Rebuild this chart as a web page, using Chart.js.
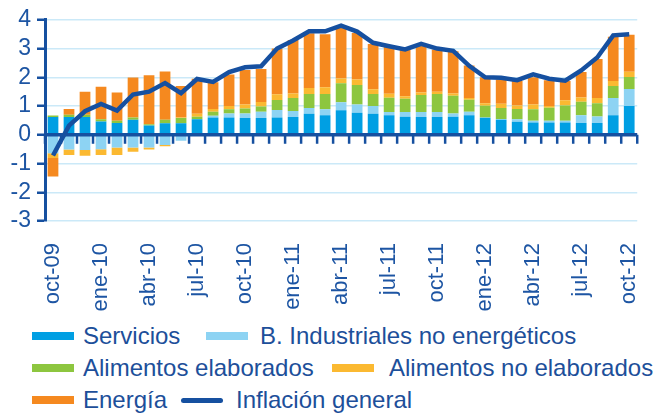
<!DOCTYPE html>
<html>
<head>
<meta charset="utf-8">
<script src="https://cdn.jsdelivr.net/npm/chart.js@4.4.1/dist/chart.umd.min.js"></script>
<style>
  body { margin: 0; background: #fff; font-family: "Liberation Sans", Arial, sans-serif; }
  #wrap { position: relative; width: 670px; height: 417px; }
  #grafico { position: absolute; left: 0; top: 0; }
  .ley { position: absolute; height: 28px; line-height: 28px; font-size: 24px; color: #1d4f9a; white-space: nowrap; }
  .caja { position: absolute; width: 42px; height: 8px; top: 10px; left: 0; }
  .linea { position: absolute; width: 42px; height: 5px; top: 12px; left: 0; border-radius: 3px; background: #1650a0; }
  .txt { position: absolute; top: 0; }
</style>
</head>
<body>
<div id="wrap">
  <canvas id="grafico" width="670" height="320"></canvas>
  <div id="leyenda"></div>
</div>
<script>
// Datos: contribuciones a la inflación (puntos porcentuales)
const meses = ['oct-09','nov-09','dic-09','ene-10','feb-10','mar-10','abr-10','may-10','jun-10','jul-10','ago-10','sep-10',
    'oct-10','nov-10','dic-10','ene-11','feb-11','mar-11','abr-11','may-11','jun-11','jul-11','ago-11','sep-11',
    'oct-11','nov-11','dic-11','ene-12','feb-12','mar-12','abr-12','may-12','jun-12','jul-12','ago-12','sep-12','oct-12'];

const servicios = [0.62,0.62,0.62,0.46,0.41,0.52,0.32,0.40,0.40,0.54,0.60,0.60,0.58,0.58,0.60,0.62,0.73,0.68,0.85,0.77,0.73,0.68,0.63,0.62,0.62,0.63,0.68,0.59,0.52,0.45,0.43,0.43,0.43,0.41,0.41,0.68,1.00];
const bIndustriales = [-0.64,-0.51,-0.53,-0.50,-0.44,-0.44,-0.44,-0.36,-0.21,0.00,0.06,0.14,0.16,0.22,0.26,0.21,0.20,0.21,0.28,0.28,0.27,0.11,0.16,0.17,0.17,0.11,0.12,0.01,0.03,0.09,0.06,0.06,0.06,0.27,0.23,0.60,0.59];
const alimElaborados = [0.05,0.08,0.08,0.08,0.08,0.08,0.05,0.12,0.18,0.09,0.14,0.15,0.17,0.18,0.35,0.45,0.49,0.53,0.66,0.68,0.42,0.50,0.46,0.59,0.63,0.62,0.42,0.41,0.38,0.36,0.40,0.45,0.53,0.47,0.46,0.42,0.42];
const alimNoElaborados = [-0.17,-0.19,-0.20,-0.20,-0.26,-0.15,-0.07,-0.04,0.02,0.10,0.10,0.11,0.14,0.16,0.20,0.16,0.21,0.23,0.17,0.19,0.16,0.14,0.09,0.09,0.08,0.08,0.06,0.09,0.15,0.12,0.16,0.06,0.18,0.15,0.18,0.17,0.18];
const energia = [-0.64,0.20,0.80,1.13,0.98,1.39,1.70,1.68,1.10,1.22,0.93,1.10,1.20,1.15,1.59,1.86,1.90,1.85,1.80,1.62,1.58,1.63,1.63,1.62,1.47,1.47,1.13,0.90,0.84,0.85,0.95,0.90,0.67,0.88,1.36,1.54,1.29];
const inflacion = [-0.72,0.32,0.82,1.07,0.84,1.40,1.50,1.80,1.45,1.94,1.84,2.18,2.35,2.38,3.00,3.28,3.60,3.60,3.80,3.59,3.20,3.08,2.97,3.16,3.00,2.92,2.40,2.00,1.98,1.90,2.10,1.95,1.88,2.24,2.69,3.46,3.50];

const ticksY = [-3,-2,-1,0,1,2,3,4];

const azulTexto = '#1d55a3';
const azulOscuro = '#1650a0';
const colores = {
    servicios: '#009fe3',
    industriales: '#8dd3f3',
    elaborados: '#8dc63f',
    noElaborados: '#fbb931',
    energia: '#f5891f'
};

// Línea del cero con sus marcas
const lineaCero = {
    id: 'lineaCero',
    afterDatasetsDraw(chart) {
        const { ctx, chartArea, scales } = chart;
        const y0 = scales.y.getPixelForValue(0);
        const paso = scales.x.getPixelForValue(1) - scales.x.getPixelForValue(0);
        ctx.save();
        ctx.strokeStyle = azulOscuro;
        ctx.lineWidth = 2.5;
        for (let i = 0; i <= meses.length; i++) {
            const x = scales.x.getPixelForValue(i) - paso / 2;
            ctx.beginPath();
            ctx.moveTo(x, y0);
            ctx.lineTo(x, y0 + 9);
            ctx.stroke();
        }
        ctx.lineWidth = 3.5;
        ctx.beginPath();
        ctx.moveTo(chartArea.left, y0);
        ctx.lineTo(chartArea.right, y0);
        ctx.stroke();
        ctx.restore();
    }
};

function barra(label, data, color) {
    return {
        type: 'bar',
        label: label,
        data: data,
        backgroundColor: color,
        borderWidth: 0,
        barPercentage: 0.67,
        categoryPercentage: 1,
        stack: 'ipc',
        order: 1
    };
}

const config = {
    data: {
        labels: meses,
        datasets: [
            {
                type: 'line',
                label: 'Inflación general',
                data: inflacion,
                borderColor: azulOscuro,
                borderWidth: 4.5,
                pointRadius: 0,
                tension: 0,
                order: 0
            },
            barra('Servicios', servicios, colores.servicios),
            barra('B. Industriales no energéticos', bIndustriales, colores.industriales),
            barra('Alimentos elaborados', alimElaborados, colores.elaborados),
            barra('Alimentos no elaborados', alimNoElaborados, colores.noElaborados),
            barra('Energía', energia, colores.energia)
        ]
    },
    options: {
        responsive: false,
        animation: false,
        layout: { padding: { top: 10, right: 28, left: 0, bottom: 0 } },
        plugins: {
            legend: { display: false },
            tooltip: { enabled: false }
        },
        scales: {
            x: {
                stacked: true,
                grid: { display: false },
                border: { display: false },
                ticks: {
                    autoSkip: false,
                    maxRotation: 90,
                    minRotation: 90,
                    padding: 14,
                    color: azulTexto,
                    font: { family: '"Liberation Sans", Arial, sans-serif', size: 22 },
                    callback: (v, i) => (i % 3 === 0 ? meses[i] : '')
                },
                afterFit: (scale) => { scale.height = 99; }
            },
            y: {
                stacked: true,
                min: -3,
                max: 4,
                afterBuildTicks: (scale) => { scale.ticks = ticksY.map(v => ({ value: v })); },
                grid: {
                    color: '#cbe9f8',
                    lineWidth: 1.5,
                    tickColor: azulOscuro,
                    tickLength: 8,
                    tickWidth: 2.5
                },
                border: { color: azulOscuro, width: 3 },
                ticks: {
                    autoSkip: false,
                    padding: 6,
                    color: azulTexto,
                    font: { family: '"Liberation Sans", Arial, sans-serif', size: 23 }
                },
                afterFit: (scale) => { scale.width = 45; }
            }
        }
    },
    plugins: [lineaCero]
};

const ctx = document.getElementById('grafico').getContext('2d');
const grafico = new Chart(ctx, config);

// Leyenda en HTML
const itemsLeyenda = [
    { texto: 'Servicios', color: colores.servicios, x: 32, y: 336 },
    { texto: 'B. Industriales no energéticos', color: colores.industriales, x: 206, y: 336, dx: 54 },
    { texto: 'Alimentos elaborados', color: colores.elaborados, x: 32, y: 368 },
    { texto: 'Alimentos no elaborados', color: colores.noElaborados, x: 332, y: 368, dx: 57 },
    { texto: 'Energía', color: colores.energia, x: 32, y: 400 },
    { texto: 'Inflación general', linea: true, x: 181, y: 400, dx: 55 }
];
const leyenda = document.getElementById('leyenda');
itemsLeyenda.forEach(function(it) {
    const d = document.createElement('div');
    d.className = 'ley';
    d.style.left = it.x + 'px';
    d.style.top = (it.y - 14) + 'px';
    const marca = document.createElement('span');
    if (it.linea) {
        marca.className = 'linea';
    } else {
        marca.className = 'caja';
        marca.style.background = it.color;
    }
    const t = document.createElement('span');
    t.className = 'txt';
    t.style.left = (it.dx || 51) + 'px';
    t.textContent = it.texto;
    d.appendChild(marca);
    d.appendChild(t);
    leyenda.appendChild(d);
});
</script>
</body>
</html>
